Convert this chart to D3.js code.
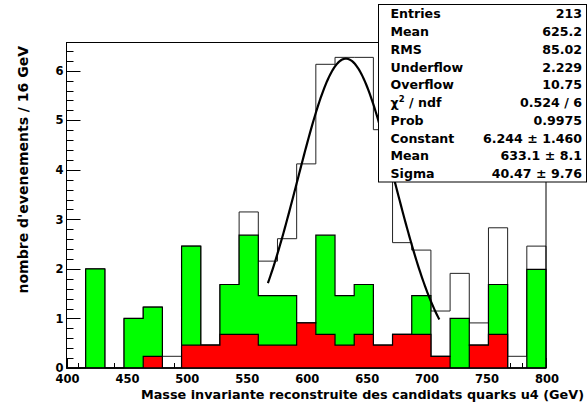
<!DOCTYPE html>
<html>
<head>
<meta charset="utf-8">
<script src="https://cdn.jsdelivr.net/npm/d3@7"></script>
<style>
  html, body { margin: 0; padding: 0; background: #fff; }
  svg { display: block; }
  text { font-family: "DejaVu Sans", "Liberation Sans", Arial, sans-serif; font-weight: bold; fill: #000; }
</style>
</head>
<body>
<svg id="chart" width="587" height="407"></svg>
<script>
// ---- data ----
const binWidth = 16, nBins = 25;
const binLows = [400,416,432,448,464,480,496,512,528,544,560,576,592,608,624,640,656,672,688,704,720,736,752,768,784];
const totalCounts = [0, 2.0, 0, 1.0, 1.23, 0.236, 2.46, 0.46, 1.685, 3.15, 2.157, 2.61, 4.12, 6.13, 6.27, 6.27, 4.81, 2.53, 2.38, 1.15, 1.91, 0.91, 2.83, 0.236, 2.46];
const greenCounts = [0, 2.0, 0, 1.0, 1.23, 0, 2.46, 0.46, 1.685, 2.68, 1.46, 1.46, 0.91, 2.68, 1.46, 1.685, 0.46, 0.68, 1.46, 0.236, 1.0, 0.46, 1.685, 0, 1.99];
const redCounts   = [0, 0, 0, 0, 0.236, 0, 0.46, 0.46, 0.68, 0.68, 0.46, 0.46, 0.91, 0.68, 0.46, 0.68, 0.46, 0.68, 0.68, 0.236, 0, 0.46, 0.68, 0, 0];
const xTickLabels = ["400","450","500","550","600","650","700","750","800"];
const yTickLabels = ["0","1","2","3","4","5","6"];
// Gaussian fit parameters (from stats box)
const fitConstant = 6.244, fitMean = 633.1, fitSigma = 40.47;
const fitRange = [568, 711];
const statsNames  = ["Entries","Mean","RMS","Underflow","Overflow","CHI","Prob","Constant","Mean","Sigma"];
const statsValues = ["213","625.2","85.02","2.229","10.75","0.524 / 6","0.9975","6.244 \u00b1 1.460","633.1 \u00b1 8.1","40.47 \u00b1 9.76"];
const xTitle = "Masse invariante reconstruite des candidats quarks u4 (GeV)";
const yTitle = "nombre d'evenements / 16 GeV";

// ---- layout ----
const L = 66.5, R = 546, T = 42.5, B = 368;
const svg = d3.select("#chart");
const x = d3.scaleLinear().domain([400, 800]).range([L, R]);
const y = d3.scaleLinear().domain([0, 6.57]).range([B, T]);

// frame background
svg.append("rect").attr("x", L).attr("y", T).attr("width", R - L).attr("height", B - T)
  .attr("fill", "#fff").attr("stroke", "none");

// ticks (drawn before histograms, like ROOT)
const tickG = svg.append("g").attr("stroke", "#000").attr("stroke-width", 1);
d3.range(0, 6.57, 0.2).forEach(v => {
  const major = Math.abs(v - Math.round(v)) < 1e-6;
  const yy = Math.round(y(v)) + 0.5;
  tickG.append("line").attr("x1", L).attr("x2", L + (major ? 14 : 7)).attr("y1", yy).attr("y2", yy);
});
d3.range(400, 801, 10).forEach(v => {
  const major = v % 50 === 0;
  const xx = Math.round(x(v)) + 0.5;
  tickG.append("line").attr("x1", xx).attr("x2", xx).attr("y1", B).attr("y2", B - (major ? 10 : 5));
});

// step outline path builder
function stepPath(counts) {
  let p = `M${x(binLows[0])},${y(0)}`;
  counts.forEach((c, i) => {
    p += `L${x(binLows[i])},${y(c)}L${x(binLows[i] + binWidth)},${y(c)}`;
  });
  p += `L${x(binLows[nBins - 1] + binWidth)},${y(0)}Z`;
  return p;
}
svg.append("path").attr("d", stepPath(totalCounts)).attr("fill", "none").attr("stroke", "#222").attr("stroke-width", 1);
svg.append("path").attr("d", stepPath(greenCounts)).attr("fill", "#00ff00").attr("stroke", "#000").attr("stroke-width", 1.2);
svg.append("path").attr("d", stepPath(redCounts)).attr("fill", "#ff0000").attr("stroke", "#000").attr("stroke-width", 1.2);

// fit curve
const fitXs = d3.range(fitRange[0], fitRange[1] + 0.01, 1);
const line = d3.line().x(d => x(d)).y(d => y(fitConstant * Math.exp(-0.5 * Math.pow((d - fitMean) / fitSigma, 2))));
svg.append("path").attr("d", line(fitXs)).attr("fill", "none").attr("stroke", "#000").attr("stroke-width", 2.2);

// frame border
svg.append("rect").attr("x", L).attr("y", T).attr("width", R - L).attr("height", B - T)
  .attr("fill", "none").attr("stroke", "#000").attr("stroke-width", 1);

// tick labels
xTickLabels.forEach(t => {
  svg.append("text").attr("x", x(+t) + 1).attr("y", 382.5).attr("text-anchor", "middle")
    .attr("font-size", 11.5).text(t);
});
yTickLabels.forEach(t => {
  svg.append("text").attr("x", 63.5).attr("y", y(+t) + 4.2).attr("text-anchor", "end")
    .attr("font-size", 11.5).text(t);
});

// axis titles
svg.append("text").attr("x", 584).attr("y", 398.5).attr("text-anchor", "end")
  .attr("font-size", 12.8).text(xTitle);
svg.append("text").attr("transform", "translate(28,46) rotate(-90)").attr("text-anchor", "end")
  .attr("font-size", 14).text(yTitle);

// stats box
svg.append("rect").attr("x", 378.5).attr("y", 4.5).attr("width", 208).attr("height", 177.5)
  .attr("fill", "#fff").attr("stroke", "#000").attr("stroke-width", 1);
statsNames.forEach((n, i) => {
  const by = 18.3 + i * 17.75;
  const t = svg.append("text").attr("x", 390.5).attr("y", by).attr("font-size", 12.6);
  if (n === "CHI") {
    t.append("tspan").text("\u03c7");
    t.append("tspan").attr("font-size", 8.5).attr("dy", -5).text("2");
    t.append("tspan").attr("dy", 5).text(" / ndf");
  } else {
    t.text(n);
  }
  svg.append("text").attr("x", 582).attr("y", by).attr("text-anchor", "end").attr("font-size", 12.6).text(statsValues[i]);
});
</script>
</body>
</html>
